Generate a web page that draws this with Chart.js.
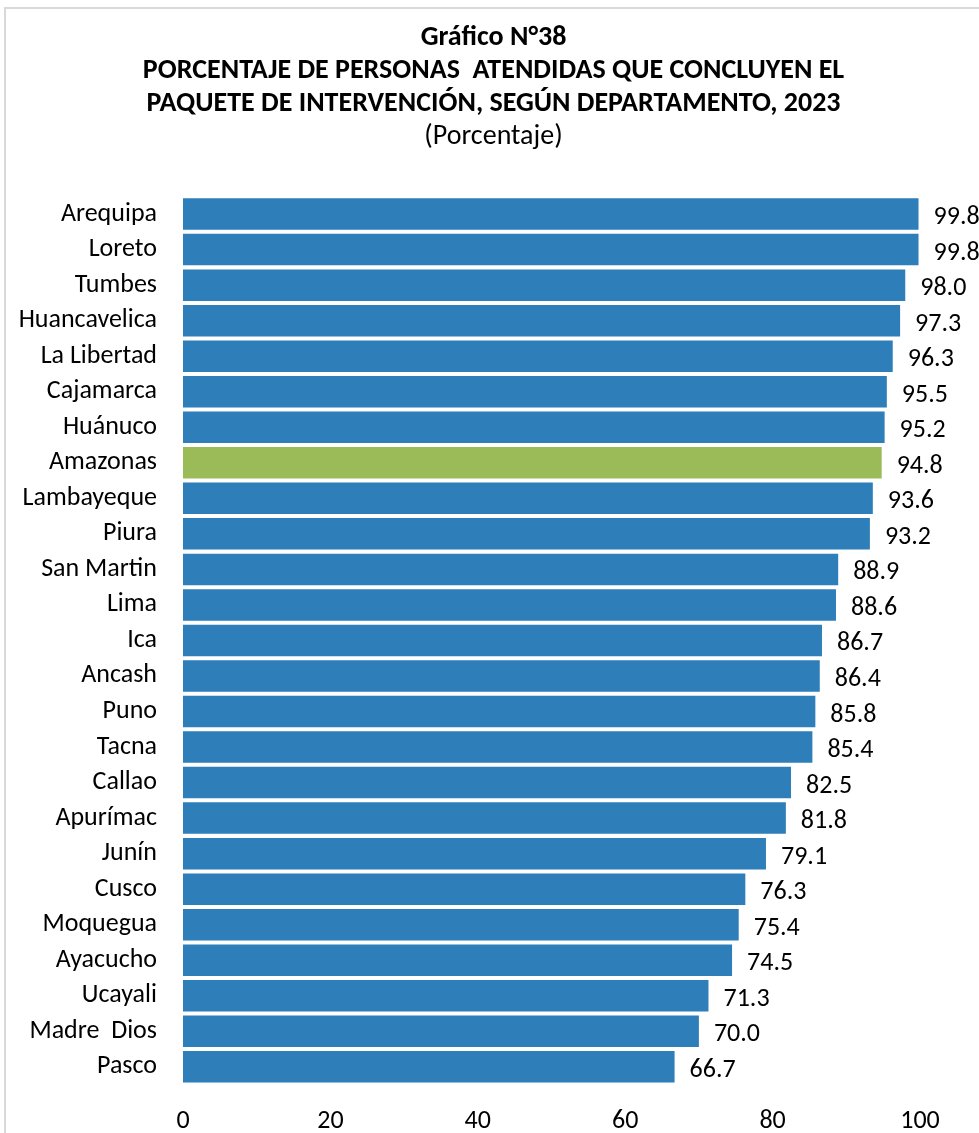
<!DOCTYPE html>
<html>
<head>
<meta charset="utf-8">
<script src="https://cdn.jsdelivr.net/npm/chart.js@4.4.1/dist/chart.umd.min.js"></script>
<style>
  html, body { margin: 0; padding: 0; background: #fff; overflow: hidden; }
  #wrap { position: relative; width: 979px; height: 1133px; }
  #frame { position: absolute; left: 4px; top: 7px; width: 1000px; height: 1200px;
           border-left: 2px solid #d9d9d9; border-top: 2px solid #d9d9d9; }
  canvas { position: absolute; left: 0; top: 0; }
</style>
</head>
<body>
<div id="wrap">
  <div id="frame"></div>
  <canvas id="c" width="979" height="1133"></canvas>
</div>
<script>
const categories = ['Arequipa','Loreto','Tumbes','Huancavelica','La Libertad','Cajamarca','Huánuco','Amazonas','Lambayeque','Piura','San Martin','Lima','Ica','Ancash','Puno','Tacna','Callao','Apurímac','Junín','Cusco','Moquegua','Ayacucho','Ucayali','Madre  Dios','Pasco'];
const values = [99.8,99.8,98.0,97.3,96.3,95.5,95.2,94.8,93.6,93.2,88.9,88.6,86.7,86.4,85.8,85.4,82.5,81.8,79.1,76.3,75.4,74.5,71.3,70.0,66.7];
const highlight = 'Amazonas';
const xTicks = [0,20,40,60,80,100];
const titleLines = ['Gráfico N°38','PORCENTAJE DE PERSONAS  ATENDIDAS QUE CONCLUYEN EL','PAQUETE DE INTERVENCIÓN, SEGÚN DEPARTAMENTO, 2023'];
const subtitleText = '(Porcentaje)';

const FONT = 'Carlito, Calibri, Lato, sans-serif';
const BLUE = '#2e7eb9';
const GREEN = '#9bbb59';

const valueLabels = {
  id: 'valueLabels',
  afterDatasetsDraw(chart) {
    const ctx = chart.ctx;
    const meta = chart.getDatasetMeta(0);
    ctx.save();
    ctx.font = '26px ' + FONT;
    ctx.fillStyle = '#000';
    ctx.textAlign = 'left';
    ctx.textBaseline = 'alphabetic';
    meta.data.forEach((bar, i) => {
      ctx.fillText(values[i].toFixed(1), bar.x + 15, bar.y + 10);
    });
    ctx.restore();
  }
};

new Chart(document.getElementById('c'), {
  type: 'bar',
  data: {
    labels: categories,
    datasets: [{
      data: values,
      backgroundColor: categories.map(c => c === highlight ? GREEN : BLUE),
      borderWidth: 0,
      barPercentage: 0.887,
      categoryPercentage: 1.0
    }]
  },
  options: {
    indexAxis: 'y',
    responsive: false,
    animation: false,
    layout: { padding: { left: 67, right: 59, top: 0, bottom: 0 } },
    plugins: {
      legend: { display: false },
      tooltip: { enabled: false },
      title: {
        display: true,
        text: titleLines,
        color: '#000',
        font: { family: FONT, size: 28, weight: 'bold', lineHeight: 1.18 },
        padding: { top: 21, bottom: 0 }
      },
      subtitle: {
        display: true,
        text: subtitleText,
        color: '#000',
        font: { family: FONT, size: 28, lineHeight: 1.2 },
        padding: { top: 0, bottom: 42.6 }
      }
    },
    scales: {
      x: {
        min: 0, max: 100,
        afterBuildTicks(scale) { scale.ticks = xTicks.map(v => ({ value: v })); },
        afterFit(scale) { scale.height = 48.4; },
        grid: { display: false, drawTicks: false },
        border: { display: false },
        ticks: { color: '#000', font: { family: FONT, size: 26 }, padding: 21 }
      },
      y: {
        afterFit(scale) {
          scale.width = 116;
          scale._computeLabelArea = function () { return undefined; };
        },
        grid: { display: false, drawTicks: false },
        border: { display: false },
        ticks: { color: '#000', font: { family: FONT, size: 26 }, padding: 26, autoSkip: false }
      }
    }
  },
  plugins: [valueLabels]
});
</script>
</body>
</html>
